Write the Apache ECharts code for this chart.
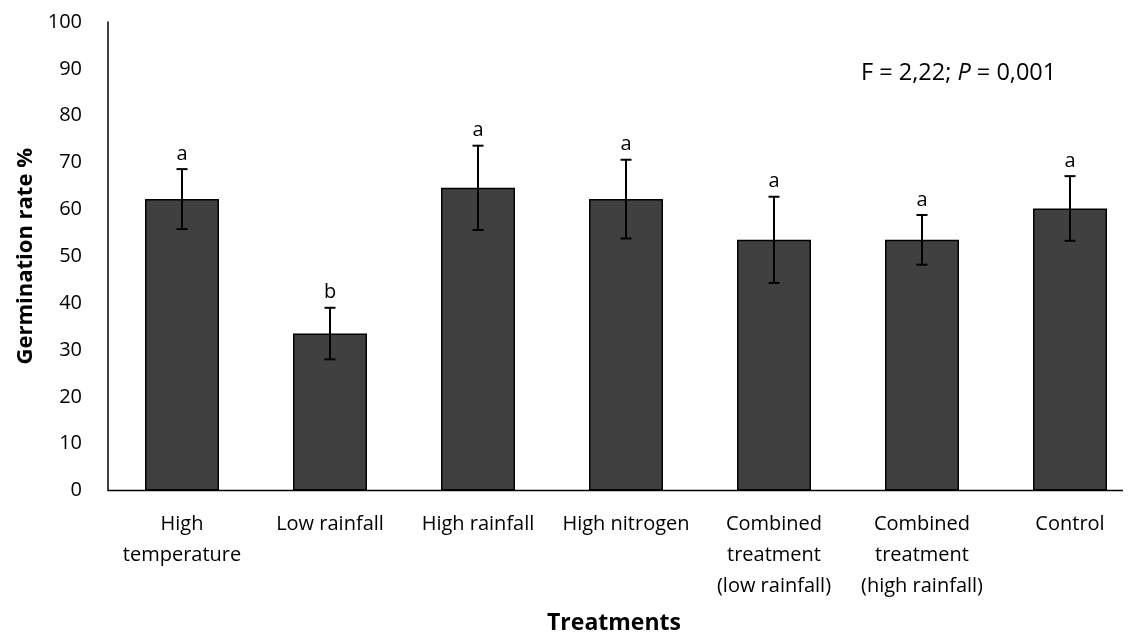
<!DOCTYPE html>
<html>
<head>
<meta charset="utf-8">
<script src="https://cdn.jsdelivr.net/npm/echarts@6/dist/echarts.min.js"></script>
<style>
html,body{margin:0;padding:0;background:#fff;}
#chart{width:1144px;height:637px;}
</style>
</head>
<body>
<div id="chart"></div>
<script>
// ---- data ----
const categories = [
  'High\ntemperature',
  'Low rainfall',
  'High rainfall',
  'High nitrogen',
  'Combined\ntreatment\n(low rainfall)',
  'Combined\ntreatment\n(high rainfall)',
  'Control'
];
const means   = [62.2, 33.5, 64.6, 62.2, 53.5, 53.5, 60.2];
const errors  = [6.4, 5.5, 9.0, 8.4, 9.2, 5.3, 6.9];
const letters = ['a', 'b', 'a', 'a', 'a', 'a', 'a'];
const yMin = 0, yMax = 100, yStep = 10;
const yTitle = 'Germination rate %';
const xTitle = 'Treatments';

const FONT = '"Open Sans", "Liberation Sans", sans-serif';
const chart = echarts.init(document.getElementById('chart'));

const errData = means.map((m, i) => [i, m, errors[i]]);

const option = {
  backgroundColor: '#ffffff',
  animation: false,
  grid: { left: 108, top: 22, bottom: 146.5, width: 1043, containLabel: false },
  xAxis: {
    type: 'category',
    data: categories,
    axisLine: { show: false },
    axisTick: { show: false },
    axisLabel: {
      color: '#000', fontFamily: FONT, fontSize: 20, lineHeight: 31,
      margin: 18, interval: 0, align: 'center'
    },
    splitLine: { show: false }
  },
  yAxis: {
    type: 'value',
    min: yMin, max: yMax, interval: yStep,
    name: yTitle,
    nameLocation: 'middle',
    nameGap: 57,
    nameTextStyle: { color: '#000', fontFamily: FONT, fontSize: 22, fontWeight: 'bold' },
    axisLine: { show: true, lineStyle: { color: '#000', width: 1.5 } },
    axisTick: { show: false },
    axisLabel: { color: '#000', fontFamily: FONT, fontSize: 20, margin: 26 },
    splitLine: { show: false }
  },
  series: [
    {
      type: 'bar',
      data: means,
      barWidth: '50%',
      itemStyle: { color: '#404040', borderColor: '#000', borderWidth: 1.5 },
      z: 2
    },
    {
      type: 'custom',
      data: errData,
      z: 5,
      renderItem: function (params, api) {
        const x = api.value(0), m = api.value(1), e = api.value(2);
        const top = api.coord([x, m + e]);
        const bot = api.coord([x, m - e]);
        const cap = 5.5;
        const st = { stroke: '#000', lineWidth: 2 };
        return {
          type: 'group',
          children: [
            { type: 'line', shape: { x1: top[0], y1: top[1], x2: bot[0], y2: bot[1] }, style: st },
            { type: 'line', shape: { x1: top[0] - cap, y1: top[1], x2: top[0] + cap, y2: top[1] }, style: st },
            { type: 'line', shape: { x1: bot[0] - cap, y1: bot[1], x2: bot[0] + cap, y2: bot[1] }, style: st },
            { type: 'text', x: top[0], y: top[1] - 15,
              style: { text: letters[params.dataIndex], fill: '#000', font: '20px ' + FONT,
                       textAlign: 'center', textVerticalAlign: 'middle' } }
          ]
        };
      }
    }
  ]
};
chart.setOption(option);

const y0 = chart.convertToPixel({ yAxisIndex: 0 }, yMin);
chart.setOption({
  graphic: [
    { type: 'line', shape: { x1: 108, y1: y0, x2: 1123, y2: y0 },
      style: { stroke: '#000', lineWidth: 1.5 }, z: 10 },
    { type: 'text', x: 614, y: 623,
      style: { text: xTitle, fill: '#000', font: 'bold 23px ' + FONT, textAlign: 'center', textVerticalAlign: 'middle' } },
    { type: 'text', x: 861, y: 73,
      style: {
        text: '{n|F = 2,22; }{i|P}{n| = 0,001}',
        textVerticalAlign: 'middle',
        rich: {
          n: { fill: '#000', fontFamily: FONT, fontSize: 23.5 },
          i: { fill: '#000', fontFamily: FONT, fontSize: 23.5, fontStyle: 'italic' }
        }
      } }
  ]
});
</script>
</body>
</html>
